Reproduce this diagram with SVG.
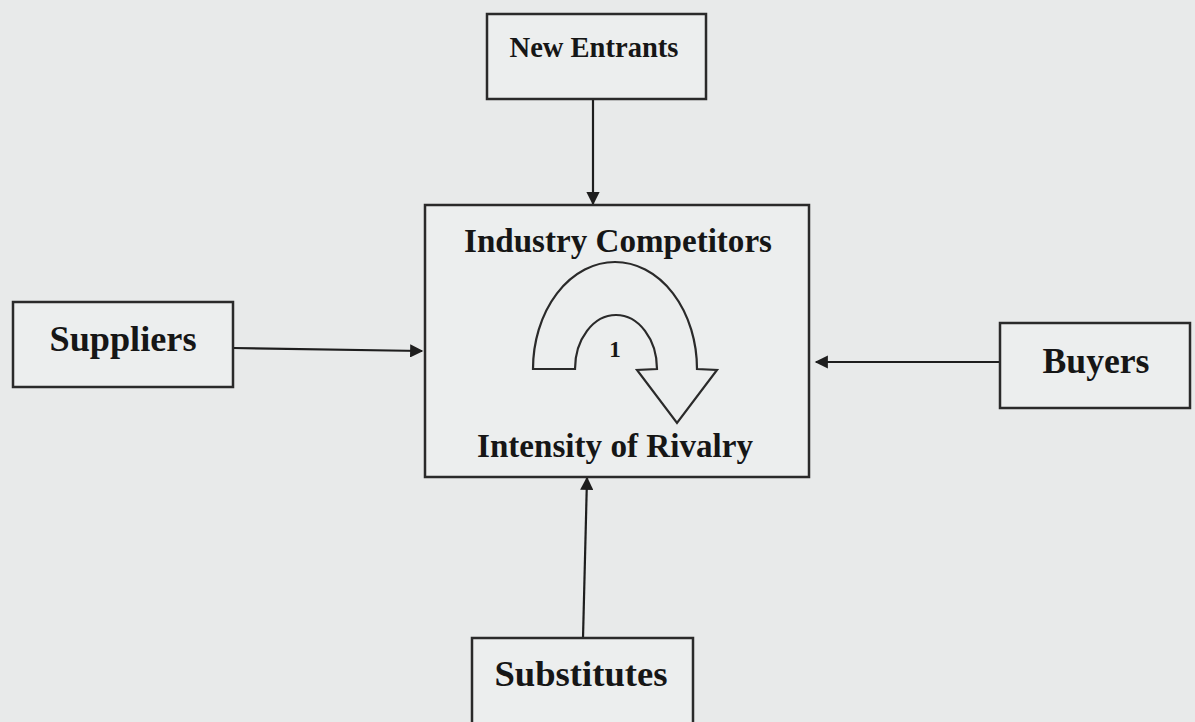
<svg xmlns="http://www.w3.org/2000/svg" width="1195" height="722" viewBox="0 0 1195 722">
<defs>
<style>
.box{fill:#eceeee;stroke:#2a2a2a;stroke-width:2.5}
.lbl{font-family:'Liberation Serif','Times New Roman',Times,serif;font-weight:700;fill:#161616;text-anchor:middle}
.con{stroke:#1e1e1e;stroke-width:2.2;fill:none}
</style>
<marker id="ah" viewBox="0 0 10 10" refX="9" refY="5" markerWidth="6.5" markerHeight="6" orient="auto" markerUnits="strokeWidth">
<path d="M0,0 L10,5 L0,10 Z" fill="#1e1e1e"/>
</marker>
</defs>
<rect width="1195" height="722" fill="#e8eaea"/>
<g id="connectors">
<line class="con" x1="593" y1="99" x2="593" y2="204" marker-end="url(#ah)"/>
<line class="con" x1="233" y1="348" x2="422" y2="351" marker-end="url(#ah)"/>
<line class="con" x1="1000" y1="362" x2="816" y2="362" marker-end="url(#ah)"/>
<line class="con" x1="583" y1="638" x2="587" y2="478" marker-end="url(#ah)"/>
</g>
<g id="new-entrants">
<rect class="box" x="487" y="14" width="219" height="85"/>
<text class="lbl" x="594" y="57" font-size="29" textLength="169" lengthAdjust="spacingAndGlyphs">New Entrants</text>
</g>
<g id="industry-competitors">
<rect class="box" x="425" y="205" width="384" height="272"/>
<text class="lbl" x="618" y="252" font-size="33" textLength="308" lengthAdjust="spacingAndGlyphs">Industry Competitors</text>
<path d="M533,369 A82,107 0 0 1 697,369 L717,370 L677,423 L637,370 L657,369 A41,54 0 0 0 575,369 Z" fill="#eceeee" stroke="#2a2a2a" stroke-width="2.2" stroke-linejoin="miter"/>
<text class="lbl" x="615" y="357" font-size="23">1</text>
<text class="lbl" x="615" y="457" font-size="33" textLength="276" lengthAdjust="spacingAndGlyphs">Intensity of Rivalry</text>
</g>
<g id="suppliers">
<rect class="box" x="13" y="302" width="220" height="85"/>
<text class="lbl" x="123" y="351" font-size="35" textLength="147" lengthAdjust="spacingAndGlyphs">Suppliers</text>
</g>
<g id="buyers">
<rect class="box" x="1000" y="323" width="190" height="85"/>
<text class="lbl" x="1096" y="373" font-size="35" textLength="107" lengthAdjust="spacingAndGlyphs">Buyers</text>
</g>
<g id="substitutes">
<rect class="box" x="472" y="638" width="221" height="100"/>
<text class="lbl" x="581" y="686" font-size="35" textLength="173" lengthAdjust="spacingAndGlyphs">Substitutes</text>
</g>
</svg>
